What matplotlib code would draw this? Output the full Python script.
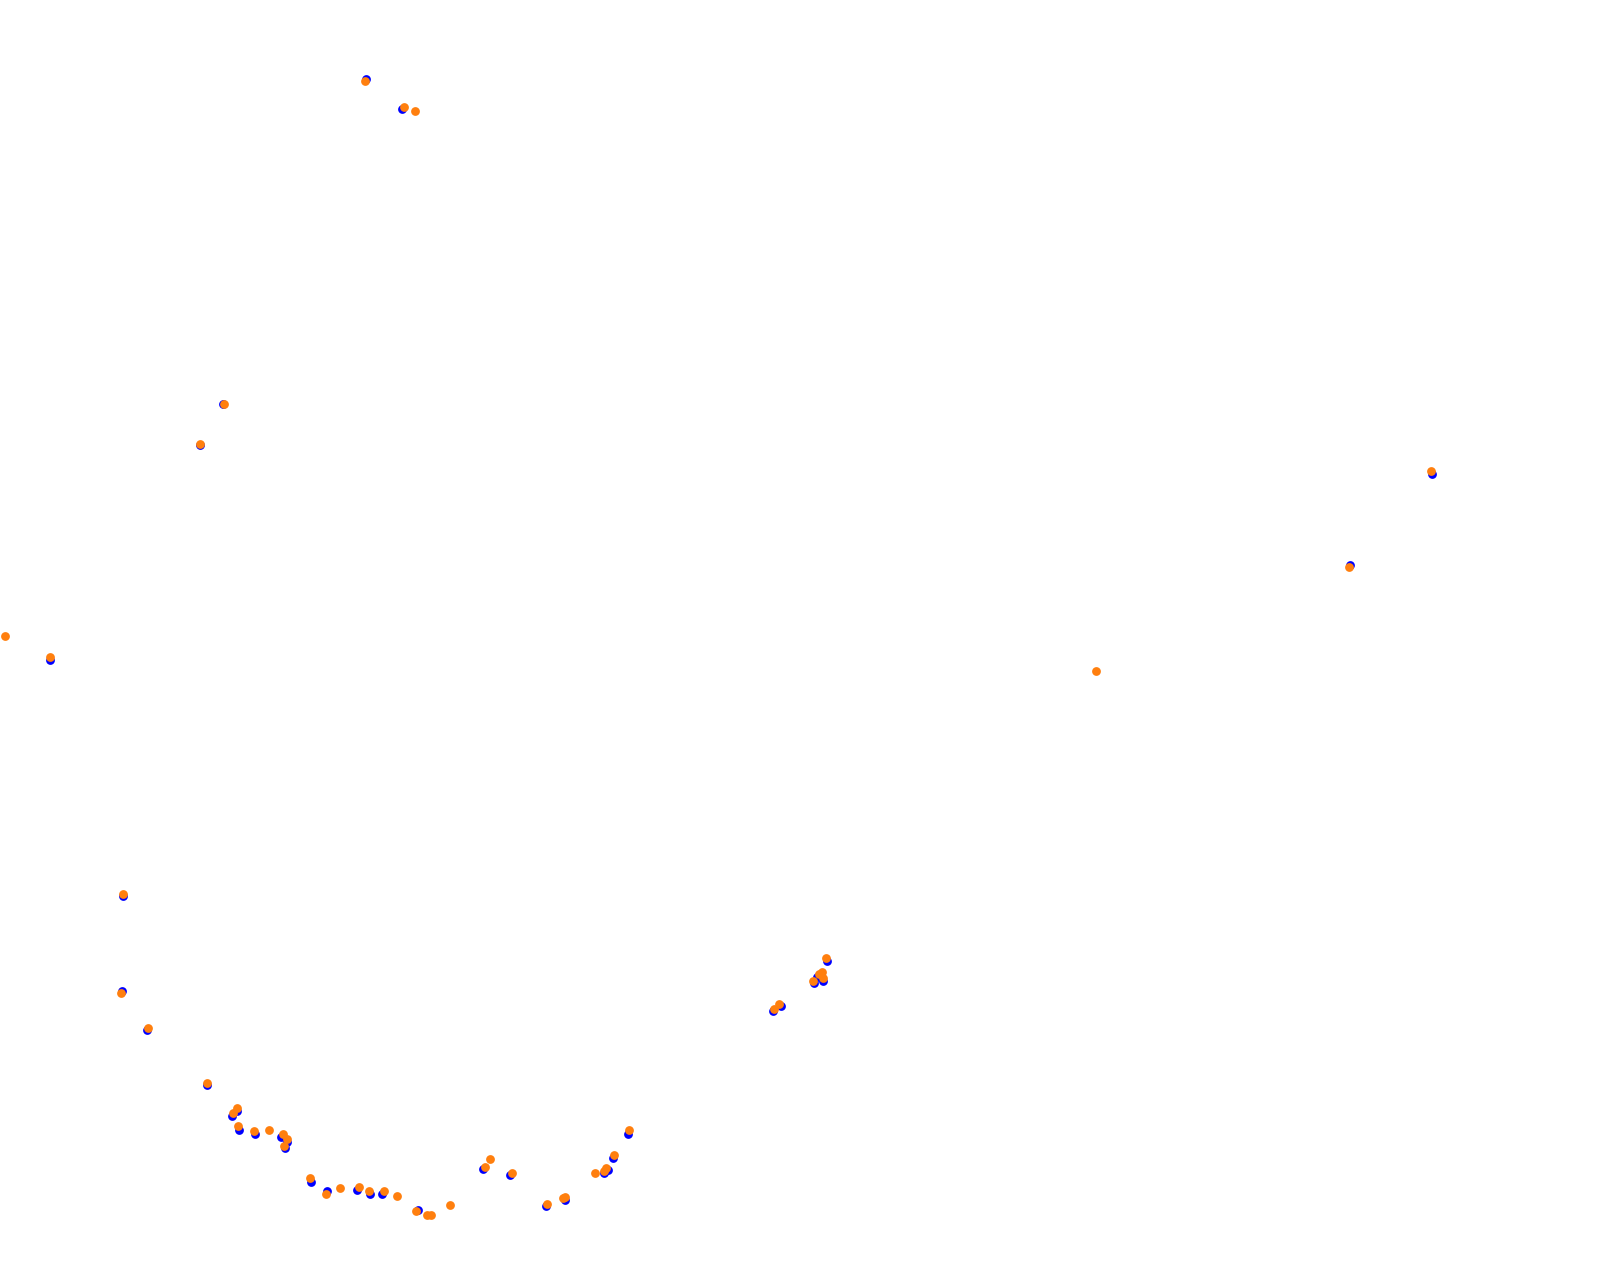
import matplotlib
matplotlib.use("Agg")
import matplotlib.pyplot as plt

# track positions, first run (blue) and second run (orange)
blue_x = [366, 402, 223, 200, 50, 1350, 1432, 123, 122, 147,
          207, 237, 232, 239, 255, 281, 287, 285, 311, 327,
          357, 370, 382, 418,
          483, 510, 546, 565, 604, 608, 613, 628,
          827, 817, 823, 814, 781, 773]
blue_y = [79, 109, 404, 445, 660, 565, 474, 896, 991, 1030,
          1085, 1111, 1116, 1130, 1134, 1137, 1142, 1148, 1182, 1191,
          1190, 1194, 1194, 1210,
          1169, 1175, 1206, 1200, 1173, 1170, 1158, 1134,
          961, 977, 981, 983, 1006, 1011]

orange_x = [365, 404, 415, 224, 200, 5, 50, 1096, 1349, 1431, 123, 121, 148,
            207, 237, 233, 238, 254, 269, 283, 287, 284, 310, 326, 340,
            359, 369, 384, 397, 416, 427, 431, 450,
            490, 485, 512, 547, 565, 563, 595, 604, 606, 614, 629,
            826, 822, 819, 823, 813, 779, 774]
orange_y = [81, 107, 111, 404, 444, 636, 657, 671, 567, 471, 894, 993, 1028,
            1083, 1108, 1113, 1126, 1131, 1130, 1134, 1139, 1146, 1178, 1194, 1188,
            1187, 1191, 1191, 1196, 1211, 1215, 1215, 1205,
            1159, 1167, 1173, 1204, 1197, 1198, 1173, 1171, 1168, 1155, 1130,
            958, 972, 974, 978, 981, 1004, 1009]

fig = plt.figure(figsize=(16.09, 12.82), dpi=100)
ax = fig.add_axes([0, 0, 1, 1])
ax.scatter(blue_x, blue_y, s=40, color='#0000ff', linewidths=0)
ax.scatter(orange_x, orange_y, s=40, color='#ff7f0e', linewidths=0)
ax.set_xlim(0, 1609)
ax.set_ylim(1282, 0)
ax.axis('off')

fig.savefig("out.png", dpi=100, facecolor='white')
